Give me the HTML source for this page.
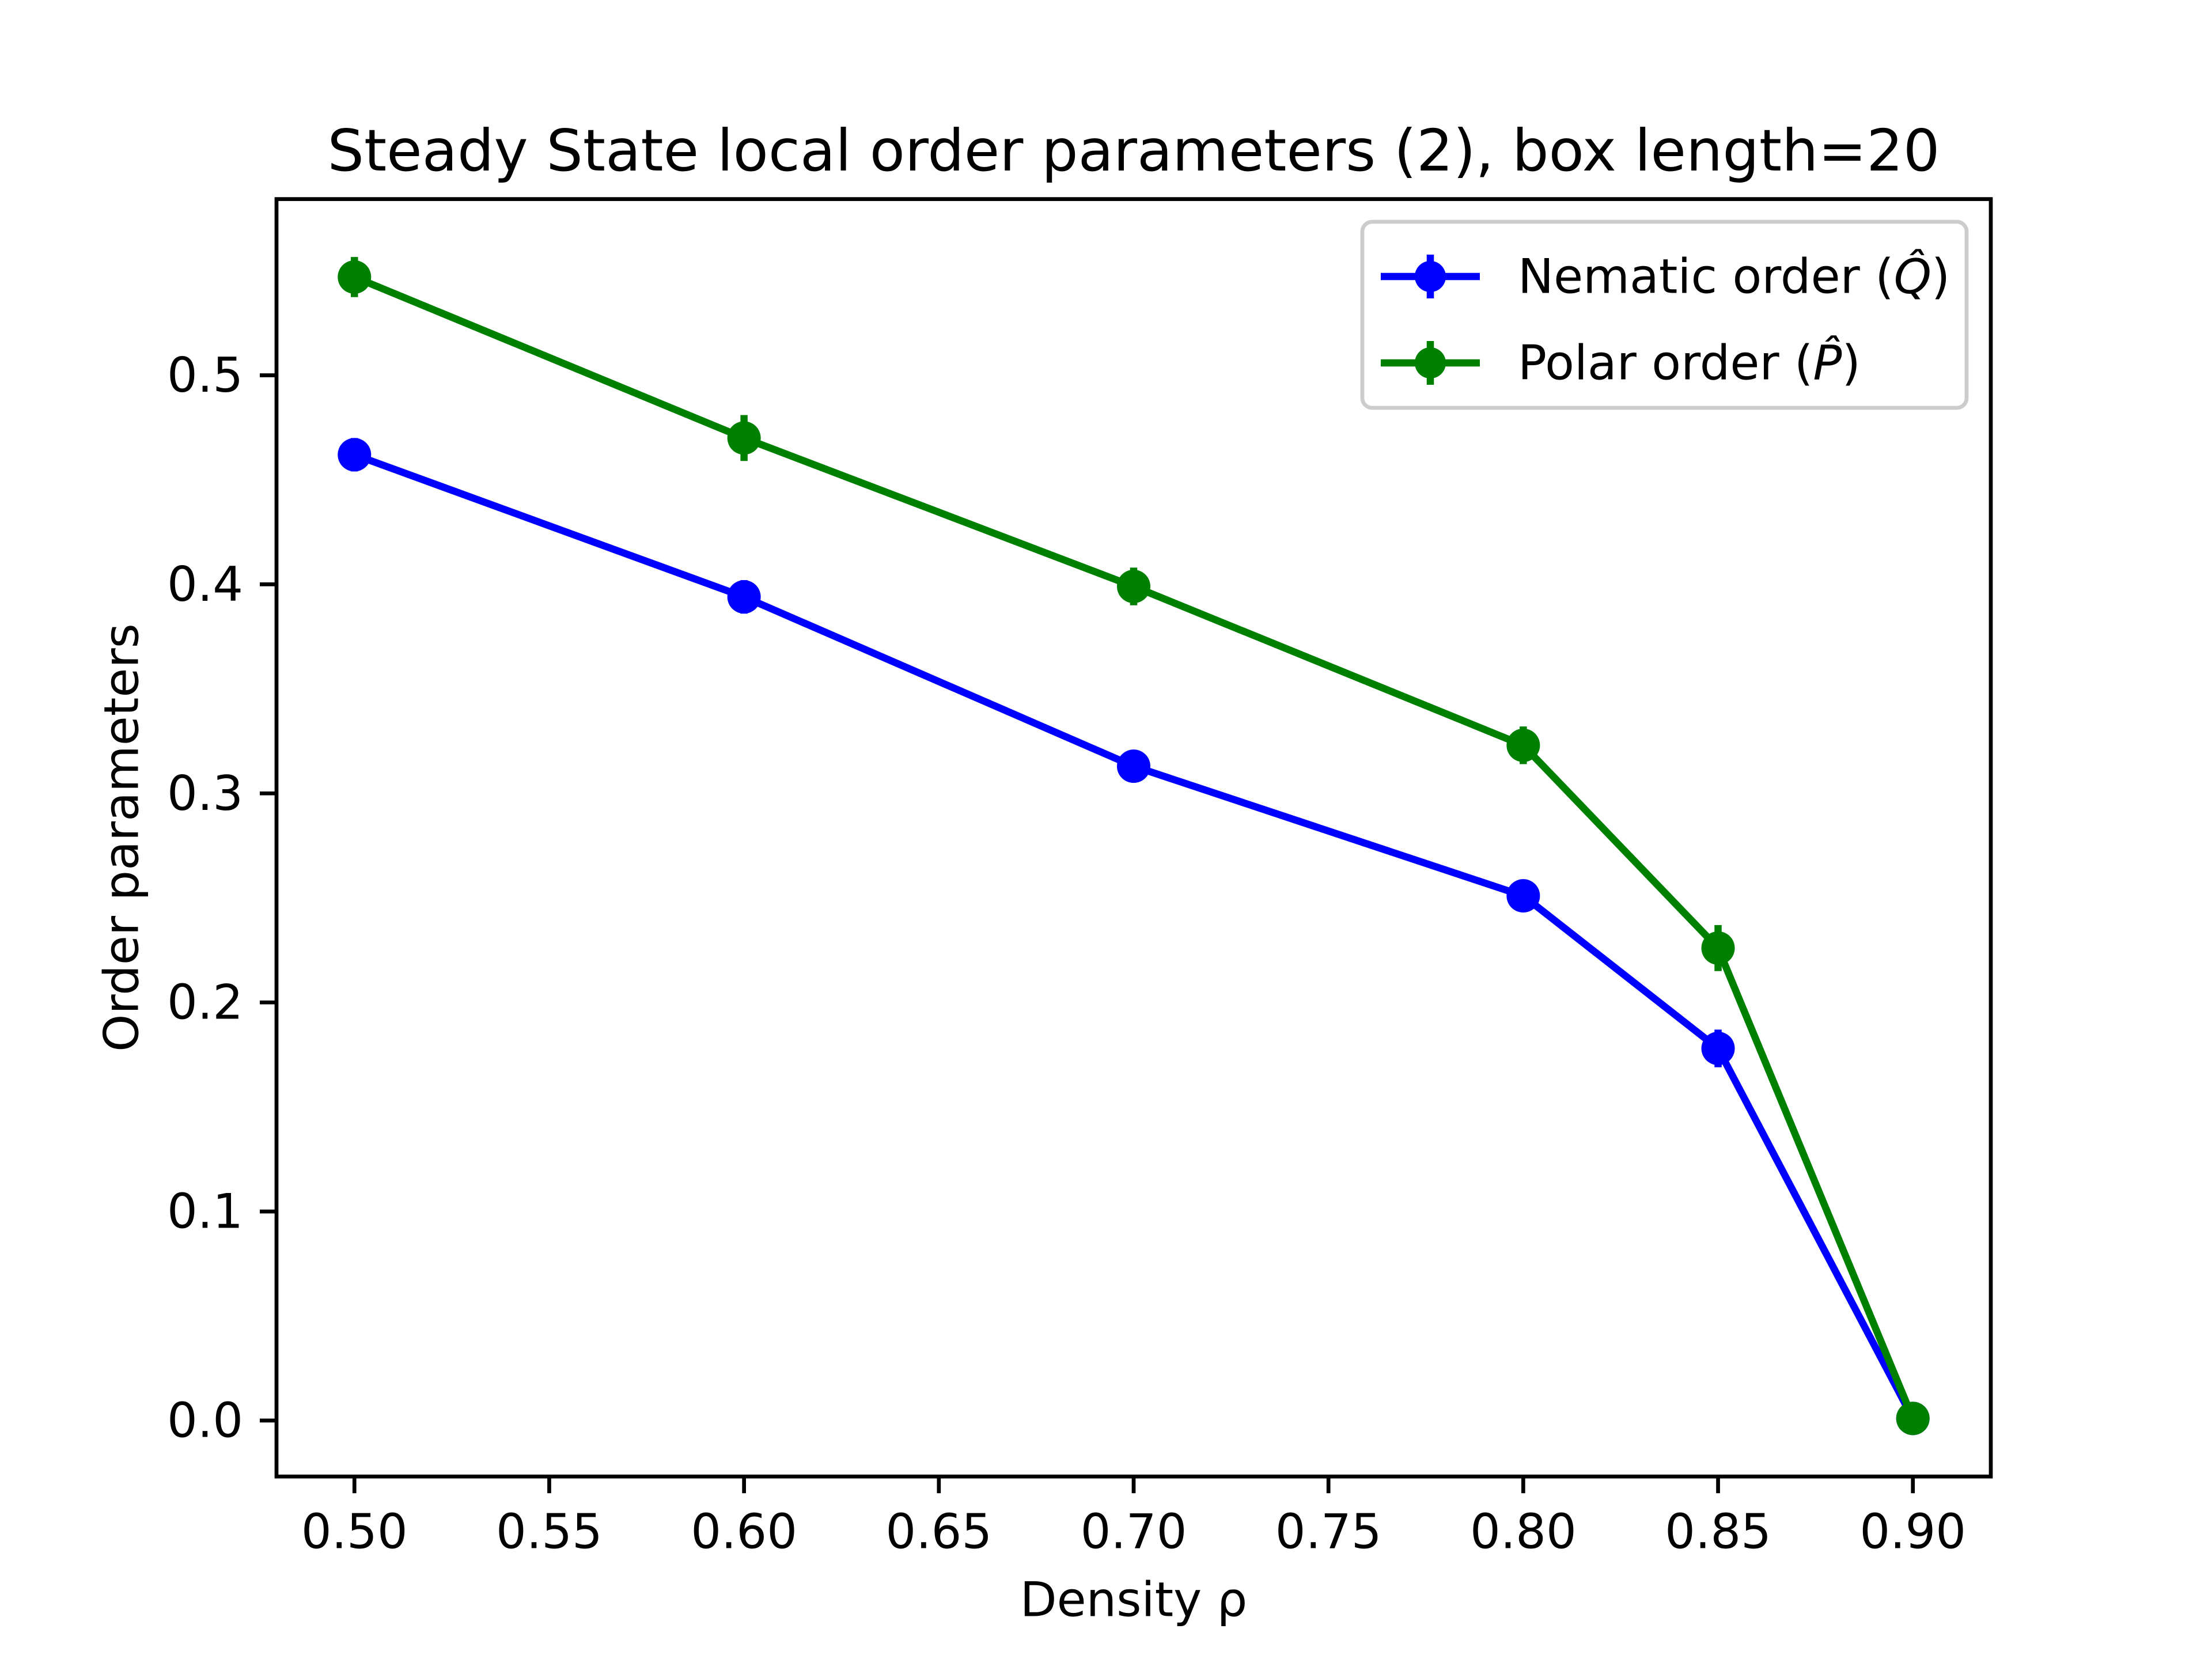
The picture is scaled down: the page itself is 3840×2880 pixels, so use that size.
<!DOCTYPE html>
<html><head><meta charset="utf-8"><style>
html,body{margin:0;padding:0;background:#fff}
svg{display:block}
text{font-family:"DejaVu Sans","Liberation Sans",sans-serif;fill:#000}
</style></head><body>
<svg id="chart" width="3840" height="2880" viewBox="0 0 3840 2880" xmlns="http://www.w3.org/2000/svg">
<rect width="3840" height="2880" fill="#fff"/>
<g id="plot"></g>
<text x="1968" y="296" font-size="100" text-anchor="middle">Steady State local order parameters (2), box length=20</text>
<text x="1968" y="2777" font-size="83" text-anchor="middle" dominant-baseline="central">Density ρ</text>
<text x="211" y="1454" font-size="83" text-anchor="middle" dominant-baseline="central" transform="rotate(-90 211 1454)">Order parameters</text>
<g>
<rect x="2365" y="385" width="1049" height="323" rx="17" fill="#fff" fill-opacity="0.8" stroke="#ccc" stroke-width="6.7"/>
<g>
<line x1="2397" y1="480" x2="2569" y2="480" stroke="#0000ff" stroke-width="12.5"/>
<line x1="2483" y1="442" x2="2483" y2="518" stroke="#0000ff" stroke-width="12.5"/>
<circle cx="2483" cy="480" r="27" fill="#0000ff"/>
<text x="2635" y="480" font-size="83" dominant-baseline="central">Nematic order (<tspan font-style="italic">Q̂</tspan>)</text>
</g>
<g>
<line x1="2397" y1="630" x2="2569" y2="630" stroke="#008000" stroke-width="12.5"/>
<line x1="2483" y1="592" x2="2483" y2="668" stroke="#008000" stroke-width="12.5"/>
<circle cx="2483" cy="630" r="27" fill="#008000"/>
<text x="2635" y="630" font-size="83" dominant-baseline="central">Polar order (<tspan font-style="italic">P̂</tspan>)</text>
</g>
</g>
</svg>
<script>
const densities=[0.50,0.60,0.70,0.80,0.85,0.90];
const nematic=[0.462,0.394,0.313,0.251,0.178,0.001];
const nematicErr=[0.008,0.008,0.005,0.006,0.009,0.002];
const polar=[0.547,0.470,0.399,0.323,0.226,0.001];
const polarErr=[0.0096,0.011,0.009,0.009,0.011,0.002];
const xTicks=[0.50,0.55,0.60,0.65,0.70,0.75,0.80,0.85,0.90];
const yTicks=[0.0,0.1,0.2,0.3,0.4,0.5];

const L=480,R=3456,T=345.6,B=2563.2;
const xMin=0.48,xMax=0.92;
const y0px=2466,yPerUnit=3629;
const xs=v=>L+(v-xMin)/(xMax-xMin)*(R-L);
const ys=v=>y0px-v*yPerUnit;
const NS='http://www.w3.org/2000/svg';
const g=document.getElementById('plot');
function mk(tag,attrs,parent){const e=document.createElementNS(NS,tag);for(const k in attrs)e.setAttribute(k,attrs[k]);(parent||g).appendChild(e);return e;}

xTicks.forEach(t=>{
  const x=xs(t);
  const tk=mk('line',{x1:x,y1:B,x2:x,y2:B+29,stroke:'#000','stroke-width':6.7});
  
  
  const tl=mk('text',{x:x,y:2659,'font-size':83,'text-anchor':'middle','dominant-baseline':'central'});
  tl.textContent=t.toFixed(2);
  
  
});
yTicks.forEach(t=>{
  const y=ys(t);
  const tk=mk('line',{x1:L-29,y1:y,x2:L,y2:y,stroke:'#000','stroke-width':6.7});
  
  
  const tl=mk('text',{x:422,y:y,'font-size':83,'text-anchor':'end','dominant-baseline':'central'});
  tl.textContent=t.toFixed(1);
  
  
});

function series(vals,errs,color,name){
  const sg=mk('g',{});
  
  
  const pts=densities.map((d,i)=>xs(d)+','+ys(vals[i])).join(' ');
  const pl=mk('polyline',{points:pts,fill:'none',stroke:color,'stroke-width':12.5,'stroke-linejoin':'round'},sg);
  
  
  densities.forEach((d,i)=>{
    const x=xs(d);
    const eb=mk('line',{x1:x,y1:ys(vals[i]-errs[i]),x2:x,y2:ys(vals[i]+errs[i]),stroke:color,'stroke-width':12.5},sg);
    
    
    const c=mk('circle',{cx:x,cy:ys(vals[i]),r:29,fill:color},sg);
    
    
  });
}
series(nematic,nematicErr,'#0000ff','nematic');
series(polar,polarErr,'#008000','polar');

const fr=mk('rect',{x:L,y:T,width:R-L,height:B-T,fill:'none',stroke:'#000','stroke-width':6.7});


</script>
</body></html>
